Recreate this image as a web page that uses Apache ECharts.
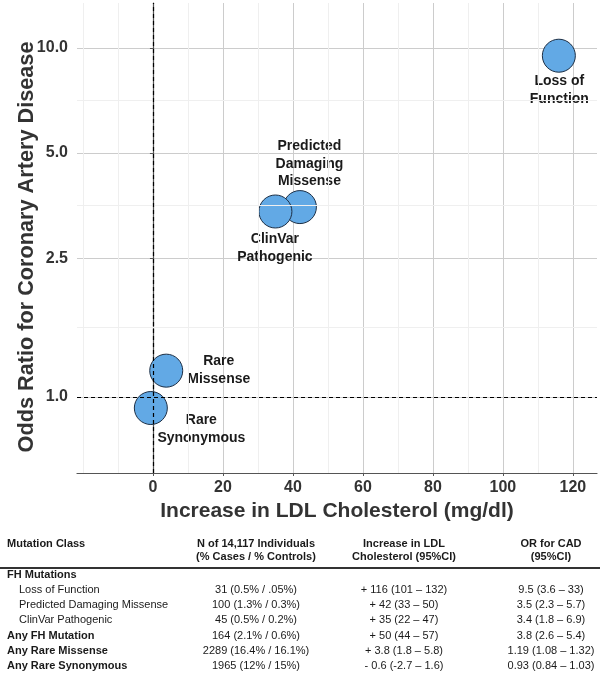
<!DOCTYPE html>
<html>
<head>
<meta charset="utf-8">
<script src="https://cdn.jsdelivr.net/npm/echarts@6/dist/echarts.min.js"></script>
<style>
html,body{margin:0;padding:0;background:#fff;}
#chart{width:604px;height:678px;}
</style>
</head>
<body>
<div id="chart"></div>
<script>
// ---- chart data ----
const mutationClasses = ['Loss of Function', 'Predicted Damaging Missense', 'ClinVar Pathogenic', 'Rare Missense', 'Rare Synonymous'];
const pointLabels = ['Loss of\nFunction', 'Predicted\nDamaging\nMissense', 'ClinVar\nPathogenic', 'Rare\nMissense', 'Rare\nSynonymous'];
const ldlIncrease = [116, 42, 35, 3.8, -0.6];
const oddsRatio = [9.5, 3.5, 3.4, 1.19, 0.93];
const xTicks = [0, 20, 40, 60, 80, 100, 120];
const xMinorGrid = [-20, -10, 10, 30, 50, 70, 90, 110];
const yTicks = [1, 2.5, 5, 10];
const yTickLabels = ['1.0', '2.5', '5.0', '10.0'];
const yMinorGrid = [1.58, 3.54, 7.07];
const xTitle = 'Increase in LDL Cholesterol (mg/dl)';
const yTitle = 'Odds Ratio for Coronary Artery Disease';

// ---- table data ----
const tableHeader1 = ['Mutation Class', 'N of 14,117 Individuals', 'Increase in LDL', 'OR for CAD'];
const tableHeader2 = ['', '(% Cases / % Controls)', 'Cholesterol (95%CI)', '(95%CI)'];
const rowLabels = ['FH Mutations', 'Loss of Function', 'Predicted Damaging Missense', 'ClinVar Pathogenic', 'Any FH Mutation', 'Any Rare Missense', 'Any Rare Synonymous'];
const rowIndented = [false, true, true, true, false, false, false];
const colN = ['', '31 (0.5% / .05%)', '100 (1.3% / 0.3%)', '45 (0.5% / 0.2%)', '164 (2.1% / 0.6%)', '2289 (16.4% / 16.1%)', '1965 (12% / 15%)'];
const colLDL = ['', '+ 116 (101 \u2013 132)', '+ 42 (33 \u2013 50)', '+ 35 (22 \u2013 47)', '+ 50 (44 \u2013 57)', '+ 3.8 (1.8 \u2013 5.8)', '- 0.6 (-2.7 \u2013 1.6)'];
const colOR = ['', '9.5 (3.6 \u2013 33)', '3.5 (2.3 \u2013 5.7)', '3.4 (1.8 \u2013 6.9)', '3.8 (2.6 \u2013 5.4)', '1.19 (1.08 \u2013 1.32)', '0.93 (0.84 \u2013 1.03)'];

// ---- layout / style (not data) ----
const FONT = '"Liberation Sans", Arial, Helvetica, sans-serif';
const SYM = 33;
const labelOffset = {
  'Loss of Function': [1, 35],
  'Predicted Damaging Missense': [10, -42.5],
  'ClinVar Pathogenic': [0, 37],
  'Rare Missense': [53, 0],
  'Rare Synonymous': [51, 21.5]
};

const scatterData = mutationClasses.map((name, i) => {
  const off = labelOffset[name];
  return {
    name: name,
    value: [ldlIncrease[i], oddsRatio[i]],
    label: {
      show: true,
      formatter: pointLabels[i],
      position: [SYM / 2 + off[0], SYM / 2 + off[1]],
      align: 'center',
      verticalAlign: 'middle'
    }
  };
});

// table graphics
const colX = [7, 256, 404, 551];
const headerY1 = 544, headerY2 = 557, ruleY = 568;
const rowY0 = 575, rowStep = 15.15;
const graphics = [];
function txt(text, x, y, align, bold) {
  graphics.push({
    type: 'text', x: x, y: y, silent: true,
    style: {
      text: text, textAlign: align, textVerticalAlign: 'middle',
      fill: '#1a1a1a', font: (bold ? 'bold ' : '') + '11px ' + FONT
    }
  });
}
tableHeader1.forEach((t, j) => txt(t, colX[j], headerY1, j === 0 ? 'left' : 'center', true));
tableHeader2.forEach((t, j) => { if (t) txt(t, colX[j], headerY2, 'center', true); });
graphics.push({ type: 'line', silent: true, shape: { x1: 0, y1: ruleY, x2: 600, y2: ruleY }, style: { stroke: '#333', lineWidth: 2 } });
rowLabels.forEach((t, i) => {
  const y = rowY0 + i * rowStep;
  txt(t, rowIndented[i] ? 19 : 7, y, 'left', !rowIndented[i]);
  if (colN[i]) txt(colN[i], colX[1], y, 'center', false);
  if (colLDL[i]) txt(colLDL[i], colX[2], y, 'center', false);
  if (colOR[i]) txt(colOR[i], colX[3], y, 'center', false);
});
// y axis title (rotated)
graphics.push({
  type: 'text', x: 27, y: 247, rotation: Math.PI / 2, silent: true,
  style: { text: yTitle, textAlign: 'center', textVerticalAlign: 'middle', fill: '#333', font: 'bold 21.7px ' + FONT }
});

const chart = echarts.init(document.getElementById('chart'), null, { renderer: 'canvas' });
chart.setOption({
  animation: false,
  backgroundColor: '#fff',
  textStyle: { fontFamily: FONT },
  grid: { left: 77, top: 3, right: 7, bottom: 205, containLabel: false },
  xAxis: {
    type: 'value', min: -21.7, max: 126.9,
    name: xTitle,
    nameLocation: 'middle', nameGap: 28,
    nameTextStyle: { fontSize: 21, fontWeight: 'bold', color: '#333', fontFamily: FONT },
    axisLine: { show: true, lineStyle: { color: '#555', width: 1.2 } },
    axisTick: { show: true, length: 3, customValues: xTicks, lineStyle: { color: '#555' } },
    axisLabel: { customValues: xTicks, margin: 7, fontSize: 16, fontWeight: 'bold', color: '#333', fontFamily: FONT },
    splitLine: { show: true, lineStyle: { color: '#cccccc', width: 1 } },
    minorSplitLine: { show: false }
  },
  yAxis: {
    type: 'log', logBase: 10, min: 0.6058, max: 13.45,
    axisLine: { show: true, lineStyle: { color: '#555', width: 1.2 } },
    axisTick: { show: true, length: 3, customValues: yTicks, lineStyle: { color: '#555' } },
    axisLabel: {
      customValues: yTicks, margin: 9, fontSize: 16, fontWeight: 'bold', color: '#333', fontFamily: FONT,
      formatter: v => { const k = yTicks.findIndex(t => Math.abs(t - v) < 1e-6); return k >= 0 ? yTickLabels[k] : ''; }
    },
    splitLine: { show: true, lineStyle: { color: '#cccccc', width: 1 } }
  },
  graphic: graphics,
  series: [
    {
      type: 'line', data: [], z: 1, silent: true,
      markLine: {
        silent: true, symbol: 'none', animation: false,
        label: { show: false },
        lineStyle: { color: '#efefef', width: 1, type: 'solid' },
        data: xMinorGrid.map(v => ({ xAxis: v })).concat(yMinorGrid.map(v => ({ yAxis: v })))
      }
    },
    {
      type: 'line', data: [], z: 2, silent: true,
      markLine: {
        silent: true, symbol: 'none', animation: false,
        label: { show: false },
        lineStyle: { color: '#000', width: 1.2, type: [4, 3] },
        data: [{ xAxis: 0 }, { yAxis: 1 }]
      }
    },
    {
      type: 'scatter', z: 3,
      symbol: 'circle', symbolSize: SYM,
      itemStyle: { color: '#62a9e5', borderColor: '#1d2f45', borderWidth: 1, opacity: 1 },
      label: {
        fontSize: 14, fontWeight: 'bold', color: '#1a1a1a', lineHeight: 17.5, fontFamily: FONT,
        textBorderWidth: 0, textBorderColor: 'transparent', textShadowBlur: 0
      },
      emphasis: { disabled: true },
      data: scatterData
    }
  ]
});
</script>
</body>
</html>
